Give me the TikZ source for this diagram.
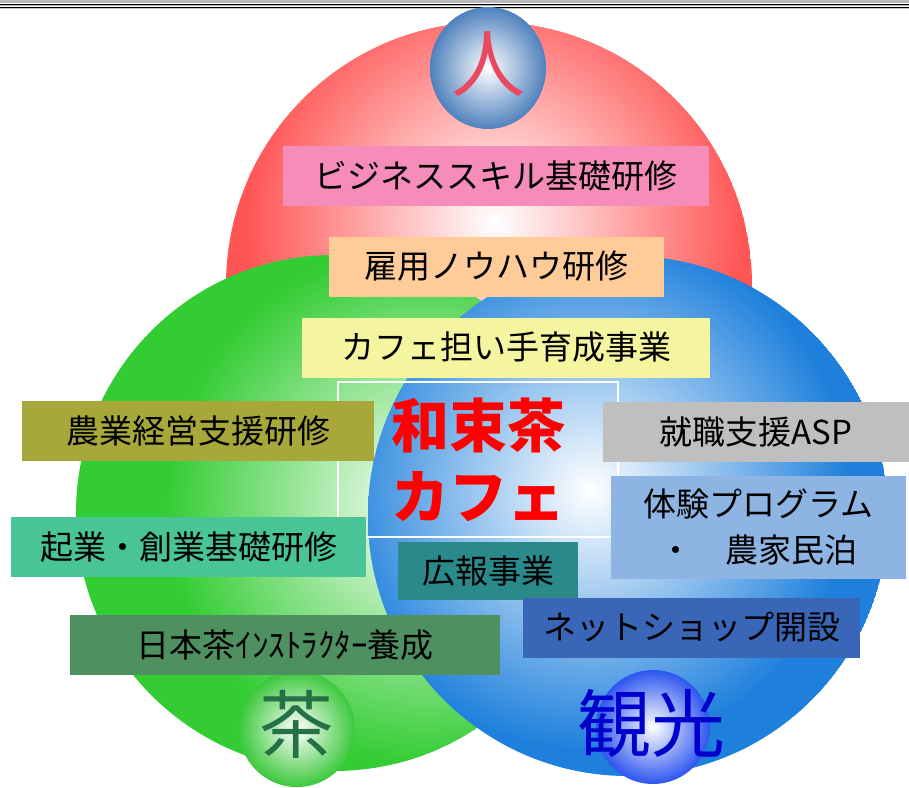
\documentclass[tikz,border=0pt]{standalone}
\usepackage{fontspec}
\newfontfamily\jp{Noto Sans CJK JP}
\definecolor{redc}{RGB}{255,85,85}
\definecolor{greenc}{RGB}{51,204,51}
\definecolor{bluec}{RGB}{30,128,220}
\definecolor{hitoball}{RGB}{79,129,189}
\definecolor{chaball}{RGB}{60,200,60}
\definecolor{kankoball}{RGB}{45,85,240}
\definecolor{hitotext}{RGB}{232,72,96}
\definecolor{chatext}{RGB}{38,112,72}
\definecolor{kankotext}{RGB}{0,0,204}
\definecolor{pinkbox}{RGB}{245,140,185}
\definecolor{peachbox}{RGB}{255,204,153}
\definecolor{yellowbox}{RGB}{245,245,160}
\definecolor{olivebox}{RGB}{168,168,58}
\definecolor{graybox}{RGB}{191,191,191}
\definecolor{skybox}{RGB}{142,180,227}
\definecolor{mintbox}{RGB}{72,196,150}
\definecolor{tealbox}{RGB}{41,137,139}
\definecolor{teabox}{RGB}{78,144,96}
\definecolor{navybox}{RGB}{58,102,184}
\begin{document}
\begin{tikzpicture}[x=1pt, y=-1pt,
	box/.style={rectangle, inner sep=0, minimum height=60pt, text=black,
		font=\jp\fontsize{33}{46}\selectfont},
	ball/.style={inner sep=0, font=\jp\fontsize{74}{80}\selectfont}]
	
	\useasboundingbox (0,0) rectangle (909,787);
	\fill[white] (0,0) rectangle (909,787);
	
	% top rule
	\fill[gray!55] (0,0) rectangle (909,3.4);
	\draw[black, line width=0.9pt] (0,4.3) -- (909,4.3);
	\draw[gray!60, line width=0.8pt] (0,5.5) -- (909,5.5);
	\draw[black, line width=1.2pt] (0,7.2) -- (909,7.2);
	\draw[gray!45, line width=0.9pt] (0,8.8) -- (909,8.8);
	
	% three circles
	\begin{scope}
		\clip (489,285) circle[radius=263pt];
		\fill[redc] (489,285) circle[radius=263pt];
		\shade[inner color=white, outer color=redc] (495,222) circle[radius=250pt];
	\end{scope}
	\begin{scope}
		\clip (334,513) circle[radius=258pt];
		\fill[greenc] (334,513) circle[radius=258pt];
		\shade[inner color=white, outer color=greenc] (425,505) circle[radius=260pt];
	\end{scope}
	\begin{scope}
		\clip (628,516) circle[radius=260pt];
		\fill[bluec] (628,516) circle[radius=260pt];
		\shade[inner color=white, outer color=bluec] (590,490) circle[radius=260pt];
	\end{scope}
	
	% small balls
	\shade[inner color=white, outer color=hitoball] (488,68) ellipse[x radius=58pt, y radius=61pt];
	\shade[inner color=white, outer color=chaball] (297,729) circle[radius=58pt];
	\shade[inner color=white, outer color=kankoball] (653,727) circle[radius=57pt];
	\node (Hito) at (488,64) [ball, text=hitotext] {人};
	\node (Cha) at (296,724) [ball, text=chatext] {茶};
	\node (Kanko) at (651,723) [ball, text=kankotext] {観光};
	
	% centre
	\node (Cafe) at (478,459.5) [draw=white, line width=1.2pt, inner sep=0,
		minimum width=280pt, minimum height=155pt, align=center, text=red,
		font=\jp\bfseries\fontsize{58}{71}\selectfont] {和束茶\\カフェ};
	
	% boxes
	\node (A) at (496,176) [box, fill=pinkbox, minimum width=426pt] {ビジネススキル基礎研修};
	\node (B) at (496.5,266.5) [box, fill=peachbox, minimum width=335pt] {雇用ノウハウ研修};
	\node (C) at (506,347.5) [box, fill=yellowbox, minimum width=408pt] {カフェ担い手育成事業};
	\node (D) at (198,430.5) [box, fill=olivebox, minimum width=352pt] {農業経営支援研修};
	\node (E) at (756,432) [box, fill=graybox, minimum width=306pt] {就職支援ASP};
	\node (F) at (758.5,527.5) [box, fill=skybox, minimum width=295pt, minimum height=103pt,
		align=center] {体験プログラム\\・　農家民泊};
	\node (G) at (188.5,547) [box, fill=mintbox, minimum width=355pt] {起業・創業基礎研修};
	\node (H) at (488,571) [box, fill=tealbox, minimum width=180pt, minimum height=58pt] {広報事業};
	\node (I) at (285,645) [box, fill=teabox, minimum width=430pt] {日本茶ｲﾝｽﾄﾗｸﾀｰ養成};
	\node (J) at (691.5,627.5) [box, fill=navybox, minimum width=337pt] {ネットショップ開設};
	
\end{tikzpicture}
\end{document}
